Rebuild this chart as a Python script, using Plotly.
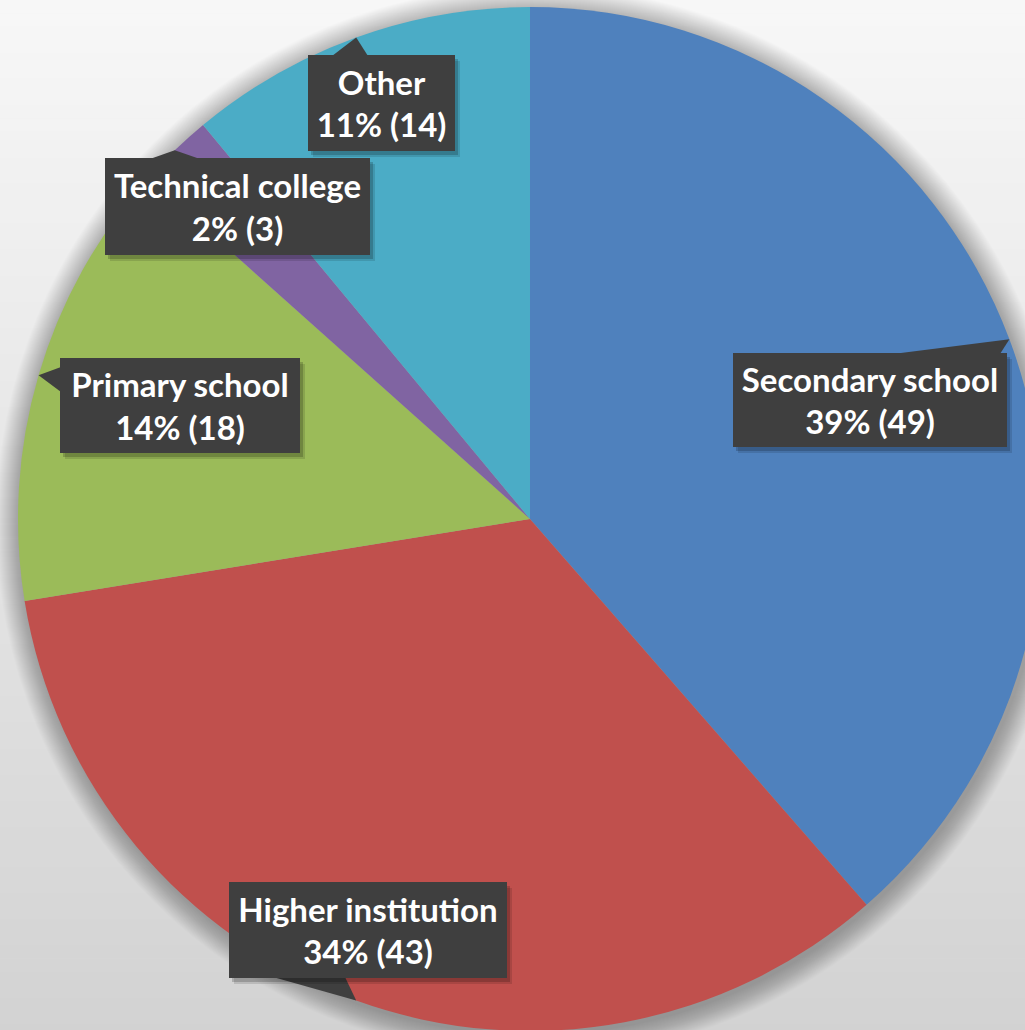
import math
import plotly.graph_objects as go

# Education level of respondents
categories = ["Secondary school", "Higher institution", "Primary school", "Technical college", "Other"]
counts = [49, 43, 18, 3, 14]
slice_colors = ["#4F81BD", "#C0504D", "#9BBB59", "#8064A2", "#4BACC6"]

# Canvas geometry (pixels); the pie runs slightly past the right/bottom edges of the view
W, H = 1060, 1050
CX, CY, R = 530, 519, 512

BOX_COLOR = "#3f3f3f"
FONT = "Lato"
FONT_SIZE = 33

# Callout boxes (x0, y0, x1, y1) and the two base points of each pointer wedge
callouts = {
    "Secondary school": dict(box=(733, 353, 1007, 447), base=[(893, 354), (1000, 354)]),
    "Higher institution": dict(box=(229, 882, 507, 978), base=[(273, 977), (345, 977)]),
    "Primary school": dict(box=(60, 358, 300, 453), base=[(61, 367), (61, 392)]),
    "Technical college": dict(box=(105, 158, 370, 255), base=[(150, 159), (200, 159)]),
    "Other": dict(box=(308, 55, 455, 151), base=[(332, 56), (368, 56)]),
}


def px(x):
    return x / W


def py(y):
    return 1 - y / H


total = sum(counts)
fig = go.Figure()

fig.add_trace(go.Pie(
    labels=categories,
    values=counts,
    marker=dict(colors=slice_colors, line=dict(width=0)),
    sort=False,
    direction="clockwise",
    rotation=0,
    textinfo="none",
    hoverinfo="label+value+percent",
    showlegend=False,
    domain=dict(x=[px(CX - R), px(CX + R)], y=[py(CY + R), py(CY - R)]),
))

shapes = []

# Soft vertical background gradient
n_strips = 80
top_c, bot_c = 247, 210
for i in range(n_strips):
    t = i / (n_strips - 1)
    g = round(top_c + (bot_c - top_c) * t)
    shapes.append(dict(
        type="rect", xref="paper", yref="paper", layer="below",
        x0=0, x1=1, y0=1 - (i + 1.05) / n_strips, y1=1 - i / n_strips,
        fillcolor=f"rgb({g},{g},{g})", line=dict(width=0),
    ))

# Soft halo shadow around the pie
for k in range(24, 0, -1):
    rr = R + k
    shapes.append(dict(
        type="circle", xref="paper", yref="paper", layer="below",
        x0=px(CX - rr + 2), x1=px(CX + rr + 2), y0=py(CY + rr + 3), y1=py(CY - rr + 3),
        fillcolor="rgba(0,0,0,0.011)", line=dict(width=0),
    ))

# Pointer wedges from each callout to the slice's mid-angle on the rim
cum = 0
for cat, cnt in zip(categories, counts):
    mid = (cum + cnt / 2) / total * 2 * math.pi
    cum += cnt
    tip = (CX + R * math.sin(mid), CY - R * math.cos(mid))
    (bx0, by0), (bx1, by1) = callouts[cat]["base"]
    path = (f"M {px(bx0)} {py(by0)} L {px(tip[0])} {py(tip[1])} "
            f"L {px(bx1)} {py(by1)} Z")
    shapes.append(dict(type="path", xref="paper", yref="paper", layer="above",
                       path=path, fillcolor=BOX_COLOR, line=dict(width=0)))

annotations = []
for cat, cnt in zip(categories, counts):
    x0, y0, x1, y1 = callouts[cat]["box"]
    pct = round(100 * cnt / total)
    cx, cy = (x0 + x1) / 2, (y0 + y1) / 2
    bw, bh = x1 - x0, y1 - y0
    # drop shadow under the box
    for (dx, dy, a) in [(5, 6, 0.12), (3, 4, 0.18)]:
        annotations.append(dict(
            x=px(cx), y=py(cy), xref="paper", yref="paper",
            xanchor="center", yanchor="middle", xshift=dx, yshift=-dy,
            text=" ", showarrow=False, width=bw, height=bh,
            bgcolor=f"rgba(0,0,0,{a})", borderpad=0, borderwidth=0,
        ))
    annotations.append(dict(
        x=px(cx), y=py(cy), xref="paper", yref="paper",
        xanchor="center", yanchor="middle",
        text=f"{cat}<br>{pct}% ({cnt})", showarrow=False,
        width=bw, height=bh, align="center", valign="middle",
        bgcolor=BOX_COLOR, borderpad=0, borderwidth=0,
        font=dict(family=FONT, size=FONT_SIZE, color="white", weight="bold"),
    ))

fig.update_layout(
    width=W, height=H,
    margin=dict(l=0, r=0, t=0, b=0),
    paper_bgcolor="#e6e6e6",
    plot_bgcolor="rgba(0,0,0,0)",
    shapes=shapes,
    annotations=annotations,
    showlegend=False,
)

fig.write_html(
    "out.html",
    post_script=("document.documentElement.style.overflow='hidden';"
                 "document.body.style.overflow='hidden';"
                 "document.body.style.margin='0';"),
)
